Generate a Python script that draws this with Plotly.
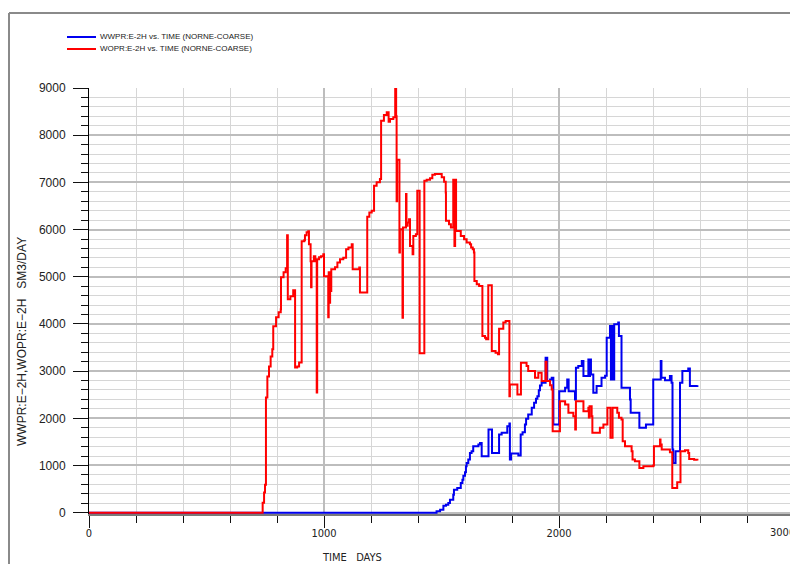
import plotly.graph_objects as go

# ---------------- data ----------------
days_wopr = [0, 739, 745, 749, 753, 759, 766, 773, 780, 784, 796, 807, 816, 817, 828, 837, 843, 846,
             857, 869, 877, 886, 894, 905, 916, 919, 926, 933, 936, 943, 945, 947, 957, 963, 969, 971,
             979, 987, 997, 1000, 1018, 1020, 1024, 1026, 1029, 1031, 1047, 1057, 1068, 1082, 1094,
             1104, 1118, 1122, 1150, 1153, 1184, 1193, 1203, 1213, 1224, 1238, 1243, 1255, 1267, 1275,
             1281, 1295, 1303, 1307, 1309, 1311, 1321, 1323, 1334, 1336, 1349, 1351, 1356, 1362, 1366,
             1377, 1380, 1391, 1397, 1407, 1427, 1437, 1451, 1461, 1472, 1501, 1511, 1518, 1519, 1532,
             1540, 1550, 1555, 1558, 1562, 1582, 1596, 1607, 1621, 1626, 1633, 1638, 1640, 1650, 1660,
             1674, 1685, 1690, 1699, 1714, 1730, 1740, 1745, 1763, 1773, 1789, 1791, 1823, 1838, 1862,
             1869, 1898, 1912, 1926, 1943, 1947, 1962, 1969, 1973, 2004, 2026, 2040, 2061, 2069, 2072,
             2104, 2125, 2127, 2130, 2139, 2142, 2174, 2189, 2206, 2219, 2228, 2248, 2255, 2266, 2271,
             2281, 2309, 2313, 2323, 2342, 2359, 2401, 2404, 2430, 2432, 2437, 2472, 2482, 2503, 2517,
             2536, 2550, 2554, 2575, 2589]
wopr = [0, 212, 425, 594, 2442, 2887, 3100, 3312, 3461, 3949, 4140, 4246, 4310, 4989, 5096, 5180, 5881, 4522,
        4586, 4713, 3079, 3100, 3185, 5754, 5775, 5881, 5945, 5966, 5690, 5329, 4777, 5329, 5435, 5329, 2548, 5372,
        5414, 5435, 5478, 5011, 4140, 5096, 4450, 5096, 4700, 5159, 5202, 5300, 5372, 5400, 5584,
        5619, 5690, 5159, 5195, 4665, 6270, 6363, 6397, 6928, 7000, 7070, 8308, 8429, 8486, 8287,
        8344, 8380, 8981, 8400, 6600, 7480, 5513, 6008, 4133, 6044, 6752, 6079, 6150, 6220, 5654,
        5478, 5866, 5902, 6822, 3380, 7034, 7056, 7085, 7162, 7176, 7106, 7013, 6788, 6185, 6115,
        6044, 7056, 5650, 7056, 5972, 5866, 5796, 5725, 5690, 5619, 5584, 5513, 4911, 4841, 4805,
        3743, 3708, 3673, 4819, 3425, 3390, 3355, 3900, 4028, 4062, 2469, 2718, 2505, 3178, 3107,
        3000, 2860, 2966, 2788, 3200, 2788, 2700, 2611, 1726, 2363, 2293, 2117, 2045, 1762, 2363,
        2151, 2223, 2017, 2257, 2045, 1692, 1798, 1868, 2223, 1586, 2223, 2117, 2011, 1975, 1514,
        1408, 1301, 1125, 1090, 949, 983, 998, 1408, 1550, 1444, 1337, 1281, 524, 643, 1301,
        1323, 1267, 1140, 1120, 1104]

days_wwpr = [0, 1479, 1494, 1508, 1519, 1529, 1536, 1550, 1553, 1567, 1582, 1589, 1593, 1600, 1604, 1607,
             1614, 1621, 1628, 1635, 1657, 1664, 1671, 1700, 1715, 1745, 1756, 1780, 1789, 1791, 1796,
             1827, 1837, 1845, 1855, 1860, 1869, 1884, 1894, 1902, 1908, 1914, 1919, 1926, 1943, 1950,
             1962, 1969, 1976, 2001, 2026, 2035, 2041, 2068, 2072, 2082, 2097, 2104, 2125, 2129, 2132,
             2136, 2146, 2160, 2181, 2196, 2203, 2217, 2221, 2227, 2231, 2235, 2252, 2255, 2266, 2302,
             2305, 2342, 2370, 2401, 2433, 2436, 2451, 2472, 2479, 2483, 2486, 2496, 2515, 2525, 2550,
             2557, 2589]
wwpr = [0, 30, 64, 149, 170, 206, 276, 382, 488, 524, 630, 700, 785, 856, 983, 1055,
        1125, 1267, 1301, 1408, 1444, 1479, 1196, 1762, 1267, 1656, 1692, 1833, 1890, 1125, 1253,
        1210, 1656, 1705, 1868, 1989, 2081, 2223, 2329, 2414, 2469, 2597, 2696, 2753, 3284, 2788,
        2824, 2860, 1868, 2576, 2647, 2824, 2576, 2399, 3072, 3107, 3213, 2894, 3248, 2894, 3248,
        2930, 2541, 2682, 2860, 2900, 3708, 3955, 2824, 3955, 2824, 3991, 4028, 3743, 2647, 2399,
        2117, 1798, 1868, 2824, 3213, 2860, 2809, 2894, 2753, 1337, 1055, 1301, 2753, 3000, 3057,
        2682, 2703]

series_names = ["WWPR:E-2H vs. TIME (NORNE-COARSE)", "WOPR:E-2H vs. TIME (NORNE-COARSE)"]
x_tick_vals = [0, 1000, 2000]
x_tick_text = ["0", "1000", "2000"]
x_last_tick = 3000
y_title = "WWPR:E\u22122H,WOPR:E\u22122H   SM3/DAY"
x_title = "TIME   DAYS"

# ---------------- layout helpers ----------------
W, H = 790, 564
L, R, T, B = 89, 0, 88, 50
PW, PH = W - L - R, H - T - B
X_MAX = 2983


def fx(p):
    return (p - L) / PW


def fy(p):
    return (H - B - p) / PH


BLUE = "#0000f0"
RED = "#ff0000"
FONT = "Liberation Sans, Arial, sans-serif"
NARROW = "Liberation Sans Narrow, DejaVu Sans Condensed, Liberation Sans, Arial, sans-serif"

fig = go.Figure()
fig.add_trace(go.Scatter(x=days_wwpr, y=wwpr, mode="lines", name=series_names[0],
                         line=dict(color=BLUE, width=2, shape="hv")))
fig.add_trace(go.Scatter(x=days_wopr, y=wopr, mode="lines", name=series_names[1],
                         line=dict(color=RED, width=2, shape="hv")))

fig.update_layout(
    width=W, height=H,
    margin=dict(l=L, r=R, t=T, b=B, pad=0),
    paper_bgcolor="white", plot_bgcolor="white",
    showlegend=False,
    font=dict(family=FONT, color="#222222"),
    xaxis=dict(
        range=[0, X_MAX], tickvals=x_tick_vals, ticktext=x_tick_text,
        ticks="outside", ticklen=12, tickwidth=1, tickcolor="#111111",
        showgrid=True, gridcolor="#bdbdbd", gridwidth=2,
        minor=dict(dtick=200, tick0=0, ticks="outside", ticklen=7, tickcolor="#111111",
                   showgrid=True, gridcolor="#d6d6d6", gridwidth=1),
        showline=True, linecolor="#7a7a7a", linewidth=2, zeroline=False,
        tickfont=dict(family=NARROW, size=11, color="#222222"),
        ticklabelstandoff=-4,
    ),
    yaxis=dict(
        range=[-28, 9000], tick0=0, dtick=1000,
        ticks="outside", ticklen=15, tickwidth=1, tickcolor="#111111",
        showgrid=True, gridcolor="#bdbdbd", gridwidth=2,
        minor=dict(dtick=200, tick0=0, ticks="outside", ticklen=7, tickcolor="#111111",
                   showgrid=True, gridcolor="#d6d6d6", gridwidth=1),
        showline=True, linecolor="#000000", linewidth=1, zeroline=False,
        tickfont=dict(family=FONT, size=12, color="#222222"),
        ticklabelstandoff=5,
    ),
)

# outer frame (top and left edges)
frame = dict(type="line", xref="paper", yref="paper", line=dict(color="#8a8a8a", width=2))
fig.add_shape(**frame, x0=fx(9), x1=fx(W + 5), y0=fy(13), y1=fy(13))
fig.add_shape(**frame, x0=fx(9), x1=fx(9), y0=fy(13), y1=fy(H + 5))

# legend drawn by hand
for name, col, ypix in [(series_names[0], BLUE, 37), (series_names[1], RED, 49)]:
    fig.add_shape(type="line", xref="paper", yref="paper", x0=fx(67), x1=fx(96),
                  y0=fy(ypix), y1=fy(ypix), line=dict(color=col, width=2))
    fig.add_annotation(text=name, xref="paper", yref="paper", x=fx(98), y=fy(ypix),
                       xanchor="left", yanchor="middle", showarrow=False,
                       font=dict(family=FONT, size=8, color="#222222"))

# last x tick label (partly outside the window, as in the reference)
fig.add_annotation(text=str(x_last_tick), xref="paper", yref="paper", x=x_last_tick / X_MAX,
                   y=fy(524), xanchor="center", yanchor="top", showarrow=False, xshift=-11,
                   font=dict(family=NARROW, size=11, color="#222222"))

# axis titles
fig.add_annotation(text=x_title, xref="paper", yref="paper", x=fx(352), y=fy(557),
                   xanchor="center", yanchor="middle", showarrow=False,
                   font=dict(family=NARROW, size=11, color="#222222"))
fig.add_annotation(text=y_title, xref="paper", yref="paper", x=fx(22), y=fy(342),
                   xanchor="center", yanchor="middle", showarrow=False, textangle=-90,
                   font=dict(family=FONT, size=12, color="#222222"))

fig.write_html("out.html")
